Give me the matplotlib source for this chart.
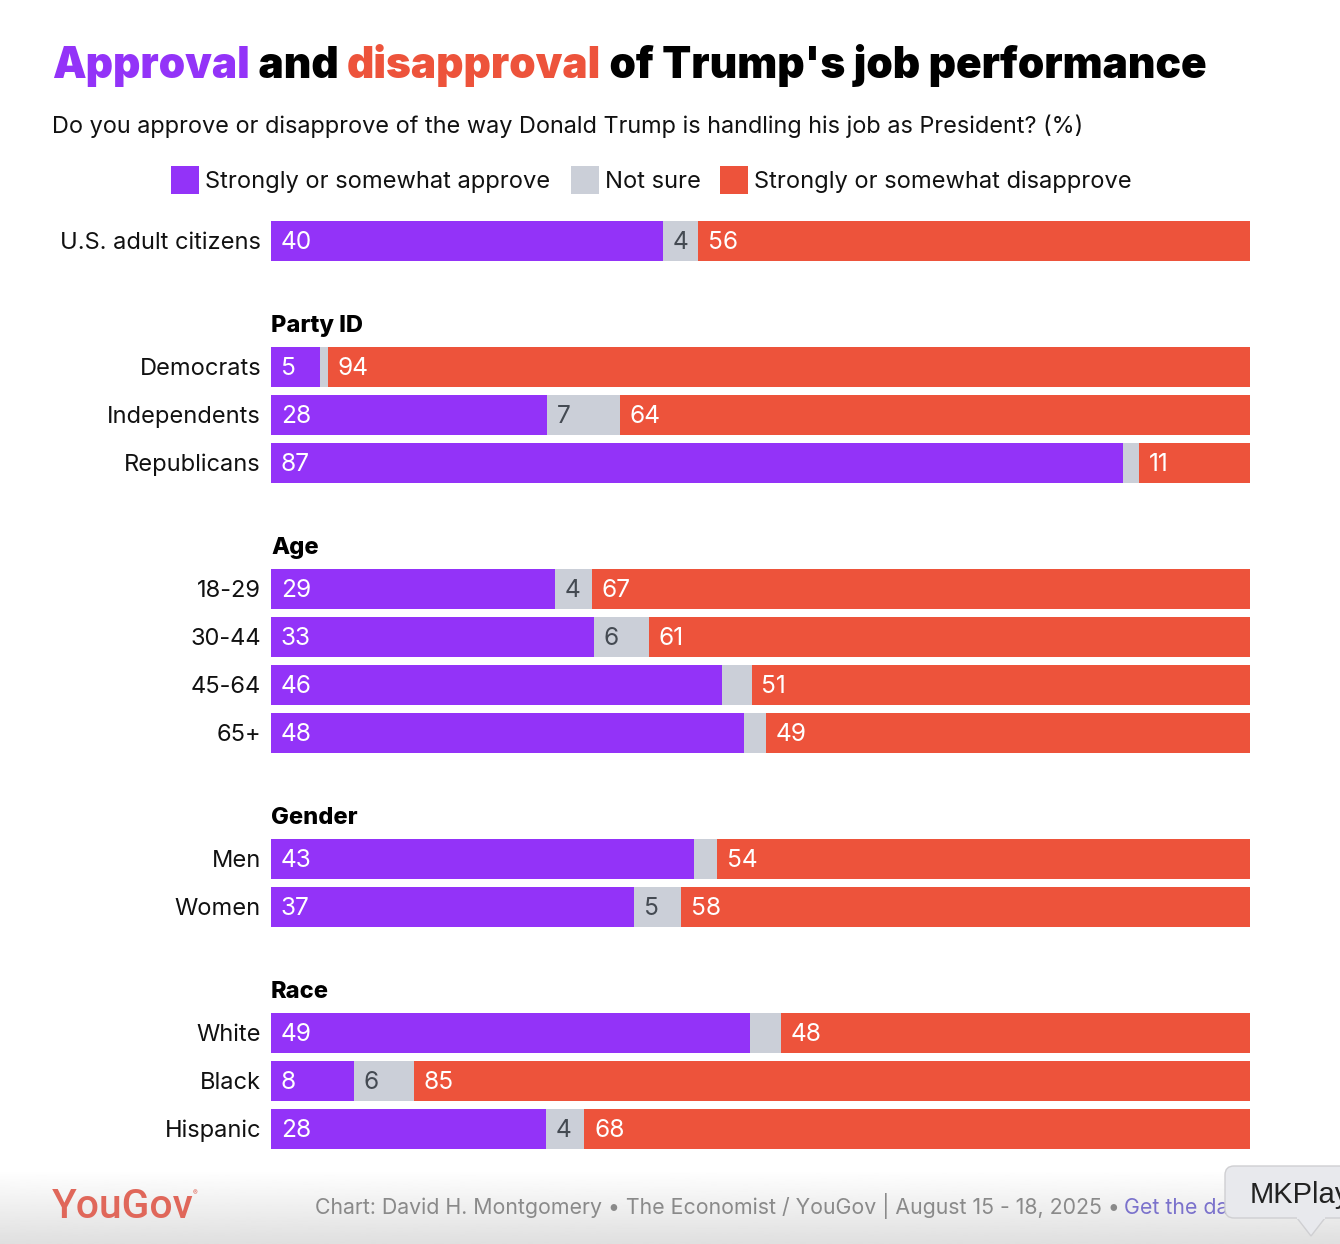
import numpy as np
import matplotlib
matplotlib.use("Agg")
import matplotlib.pyplot as plt
from matplotlib.patches import Rectangle, FancyBboxPatch, Polygon

PURPLE = '#9333F8'
GREY = '#CBCFD8'
RED = '#ED533B'

group_names = ['', 'Party ID', 'Age', 'Gender', 'Race']
group_rows = [
    ['U.S. adult citizens'],
    ['Democrats', 'Independents', 'Republicans'],
    ['18-29', '30-44', '45-64', '65+'],
    ['Men', 'Women'],
    ['White', 'Black', 'Hispanic'],
]
approve = [40.0, 5.0, 28.2, 87.0, 29.0, 33.0, 46.1, 48.3, 43.2, 37.1, 48.9, 8.5, 28.1]
not_sure = [3.6, 0.8, 7.4, 1.7, 3.8, 5.6, 3.0, 2.3, 2.4, 4.8, 3.2, 6.1, 3.9]
disapprove = [56.4, 94.2, 64.4, 11.3, 67.2, 61.4, 50.9, 49.4, 54.4, 58.1, 47.9, 85.4, 68.0]
approve_labels = ['40', '5', '28', '87', '29', '33', '46', '48', '43', '37', '49', '8', '28']
not_sure_labels = ['4', '', '7', '', '4', '6', '', '', '', '5', '', '6', '4']
disapprove_labels = ['56', '94', '64', '11', '67', '61', '51', '49', '54', '58', '48', '85', '68']

FONT = 'Inter'
W, H = 1340, 1244
NUM = 17.6
BODY = 16.9

fig = plt.figure(figsize=(W / 100, H / 100), dpi=100, facecolor='white')

# page layer in pixel coordinates
bg = fig.add_axes([0, 0, 1, 1])
bg.set_xlim(0, W)
bg.set_ylim(H, 0)
bg.axis('off')
shade = np.linspace(1, 0.875, 64).reshape(-1, 1)
bg.imshow(shade, extent=(0, W, H, 1170), cmap='gray', vmin=0, vmax=1, aspect='auto', zorder=0)
bg.set_xlim(0, W)
bg.set_ylim(H, 0)

# bars
ax = fig.add_axes([271 / W, 0, (1250 - 271) / W, 1])
ax.set_xlim(0, 100)
ax.set_ylim(H, 0)
ax.axis('off')
ax.patch.set_alpha(0)

y = 241
i = 0
for gname, rows in zip(group_names, group_rows):
    if gname:
        bg.text(271, y - 35, gname, family=FONT, weight=800, fontsize=17, va='baseline', color='black')
    for row in rows:
        a, n, d = approve[i], not_sure[i], disapprove[i]
        ax.barh(y, a, height=40, color=PURPLE)
        ax.barh(y, n, left=a, height=40, color=GREY)
        ax.barh(y, d, left=a + n, height=40, color=RED)
        ax.annotate(approve_labels[i], (0, y), xytext=(7, -5.7), textcoords='offset points',
                    color='white', family=FONT, fontsize=NUM, va='baseline')
        if not_sure_labels[i]:
            ax.annotate(not_sure_labels[i], (a, y), xytext=(7, -5.7), textcoords='offset points',
                        color='#444a52', family=FONT, fontsize=NUM, va='baseline')
        ax.annotate(disapprove_labels[i], (a + n, y), xytext=(7, -5.7), textcoords='offset points',
                    color='white', family=FONT, fontsize=NUM, va='baseline')
        bg.text(261, y + 8, row, family=FONT, fontsize=17, ha='right', va='baseline', color='#111111')
        i += 1
        y += 48
    y += 126 - 48

# title, word by word so the colours can change
fig.canvas.draw()
renderer = fig.canvas.get_renderer()
x = 52
for part, col in [('Approval', PURPLE), (' and ', 'black'), ('disapproval', RED), (" of Trump's job performance", 'black')]:
    t = bg.text(x, 78, part.replace(' ', '\u00a0'), family=FONT, weight=900, fontsize=30.5, color=col, va='baseline')
    x += t.get_window_extent(renderer).width

bg.text(52, 133, 'Do you approve or disapprove of the way Donald Trump is handling his job as President? (%)',
        family=FONT, fontsize=BODY, va='baseline', color='#111111')

# legend
for lx, col, label in [(171, PURPLE, 'Strongly or somewhat approve'), (571, GREY, 'Not sure'),
                       (720, RED, 'Strongly or somewhat disapprove')]:
    bg.add_patch(Rectangle((lx, 166), 28, 28, color=col, lw=0))
    bg.text(lx + 34, 188, label, family=FONT, fontsize=17.05, va='baseline', color='#111111')

# footer
bg.text(52, 1218, 'YouGov', family='Roboto', weight='medium', fontsize=29.3, color='#E0675A', va='baseline')
bg.text(193, 1193, '\u00ae', family=FONT, fontsize=5, color='#E0675A', va='center')
bg.text(315, 1214, 'Chart: David H. Montgomery \u2022 The Economist / YouGov | August 15 - 18, 2025 \u2022',
        family=FONT, fontsize=15.35, color='#8a8a8a', va='baseline')
bg.text(1124, 1214, 'Get the data', family=FONT, fontsize=15.35, color='#7B72CC', va='baseline')

# browser tooltip sitting on top of the footer
tip = FancyBboxPatch((1225, 1166), 140, 52, boxstyle='round,pad=0,rounding_size=9',
                     fc='#E8E9ED', ec='#cfcfd2', lw=1, zorder=5)
bg.add_patch(tip)
bg.add_patch(Polygon([[1297, 1218], [1311, 1236], [1325, 1218]], fc='#E8E9ED', ec='#cfcfd2', lw=1, zorder=6))
bg.plot([1298, 1324], [1218, 1218], color='#E8E9ED', lw=1.6, zorder=6.5)
bg.text(1250, 1192, 'MKPlay', family='Liberation Sans', fontsize=21, color='#222222',
        va='center_baseline', zorder=7, clip_on=True)

fig.savefig('out.png', dpi=100)
